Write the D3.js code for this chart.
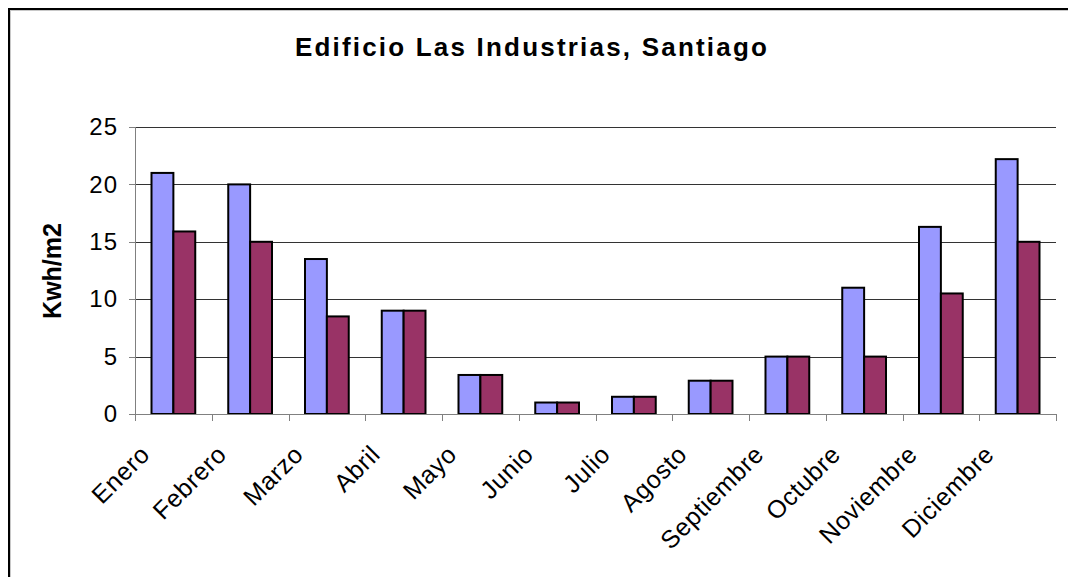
<!DOCTYPE html>
<html>
<head>
<meta charset="utf-8">
<script src="https://cdn.jsdelivr.net/npm/d3@7"></script>
<style>
    body { margin: 0; background: #fff; }
    svg { display: block; font-family: Arial, "Liberation Sans", sans-serif; }
    .grid line { stroke: #333; stroke-width: 1; shape-rendering: crispEdges; }
    .axis path, .axis line { stroke: #808080; shape-rendering: crispEdges; }
</style>
</head>
<body>
<svg id="chart" width="1068" height="577"></svg>
<script>
// months on the x axis
var months = ["Enero", "Febrero", "Marzo", "Abril", "Mayo", "Junio", "Julio",
    "Agosto", "Septiembre", "Octubre", "Noviembre", "Diciembre"];

// two series (blue / maroon)
var serie1 = [21, 20, 13.5, 9, 3.4, 1, 1.5, 2.9, 5, 11, 16.3, 22.2];
var serie2 = [15.9, 15, 8.5, 9, 3.4, 1, 1.5, 2.9, 5, 5, 10.5, 15];

var yTicks = [0, 5, 10, 15, 20, 25];
var colors = ["#9999FF", "#993366"];

var svg = d3.select("#chart");

var plotLeft = 135, plotRight = 1056, plotTop = 127, plotBottom = 414;

// outer frame (runs off the right and bottom of the picture)
svg.append("rect")
    .attr("x", 9).attr("y", 9)
    .attr("width", 1200).attr("height", 700)
    .attr("fill", "none")
    .attr("stroke", "#000")
    .attr("stroke-width", 2);
svg.append("rect")
    .attr("x", 10.5).attr("y", 10.5)
    .attr("width", 1200).attr("height", 700)
    .attr("fill", "none")
    .attr("stroke", "#c8c8c8")
    .attr("stroke-width", 1);

// title
svg.append("text")
    .attr("x", 532)
    .attr("y", 56)
    .attr("text-anchor", "middle")
    .style("font-size", "26px")
    .style("font-weight", "bold")
    .style("letter-spacing", "2.2px")
    .text("Edificio Las Industrias, Santiago");

var x0 = d3.scaleBand()
    .domain(months)
    .range([plotLeft, plotRight])
    .paddingInner(0.43)
    .paddingOuter(0.215);

var x1 = d3.scaleBand()
    .domain([0, 1])
    .range([0, x0.bandwidth()]);

var yScale = d3.scaleLinear()
    .domain([0, 25])
    .range([plotBottom, plotTop]);

// gridlines
svg.append("g")
    .attr("class", "grid")
    .selectAll("line")
    .data(yTicks.slice(1))
    .enter()
    .append("line")
    .attr("x1", plotLeft)
    .attr("x2", plotRight)
    .attr("y1", function (d) { return Math.round(yScale(d)) + 0.5; })
    .attr("y2", function (d) { return Math.round(yScale(d)) + 0.5; });

// y axis
var yAxis = d3.axisLeft(yScale)
    .tickValues(yTicks)
    .tickSize(6)
    .tickPadding(11);

var gy = svg.append("g")
    .attr("class", "axis")
    .attr("transform", "translate(" + plotLeft + ",0)")
    .call(yAxis);
gy.select(".domain").attr("d", "M0.5," + plotTop + "V" + plotBottom);
gy.selectAll("text")
    .style("font-size", "24px")
    .style("letter-spacing", "1px")
    .attr("fill", "#000");

// bars
var data = months.map(function (m, i) {
    return {month: m, values: [serie1[i], serie2[i]]};
});

var groups = svg.append("g")
    .selectAll("g")
    .data(data)
    .enter()
    .append("g")
    .attr("transform", function (d) {
        return "translate(" + x0(d.month) + ",0)";
    });

groups.selectAll("rect")
    .data(function (d) { return d.values; })
    .enter()
    .append("rect")
    .attr("x", function (d, i) { return x1(i); })
    .attr("width", x1.bandwidth())
    .attr("y", function (d) { return yScale(d); })
    .attr("height", function (d) { return plotBottom - yScale(d); })
    .attr("fill", function (d, i) { return colors[i]; })
    .attr("stroke", "#000")
    .attr("stroke-width", 2);

// x axis: ticks between categories
var step = x0.step();
var xBoundaries = d3.range(months.length + 1).map(function (i) {
    return plotLeft + i * step;
});

var gx = svg.append("g").attr("class", "axis");
gx.append("line")
    .attr("x1", plotLeft).attr("x2", plotRight)
    .attr("y1", plotBottom + 0.5).attr("y2", plotBottom + 0.5);
gx.selectAll(".tk")
    .data(xBoundaries)
    .enter()
    .append("line")
    .attr("class", "tk")
    .attr("x1", function (d) { return Math.round(d) + 0.5; })
    .attr("x2", function (d) { return Math.round(d) + 0.5; })
    .attr("y1", plotBottom)
    .attr("y2", plotBottom + 7);

// rotated month labels
gx.selectAll(".lbl")
    .data(months)
    .enter()
    .append("text")
    .attr("class", "lbl")
    .attr("text-anchor", "end")
    .attr("transform", function (d) {
        var cx = x0(d) + x0.bandwidth() / 2 - 22;
        return "translate(" + cx + "," + (plotBottom + 42) + ") rotate(-45)";
    })
    .style("font-size", "25px")
    .style("letter-spacing", "0.6px")
    .text(function (d) { return d; });

// y axis title
svg.append("text")
    .attr("transform", "translate(61,271) rotate(-90)")
    .attr("text-anchor", "middle")
    .style("font-size", "25px")
    .style("font-weight", "bold")
    .text("Kwh/m2");
</script>
</body>
</html>
